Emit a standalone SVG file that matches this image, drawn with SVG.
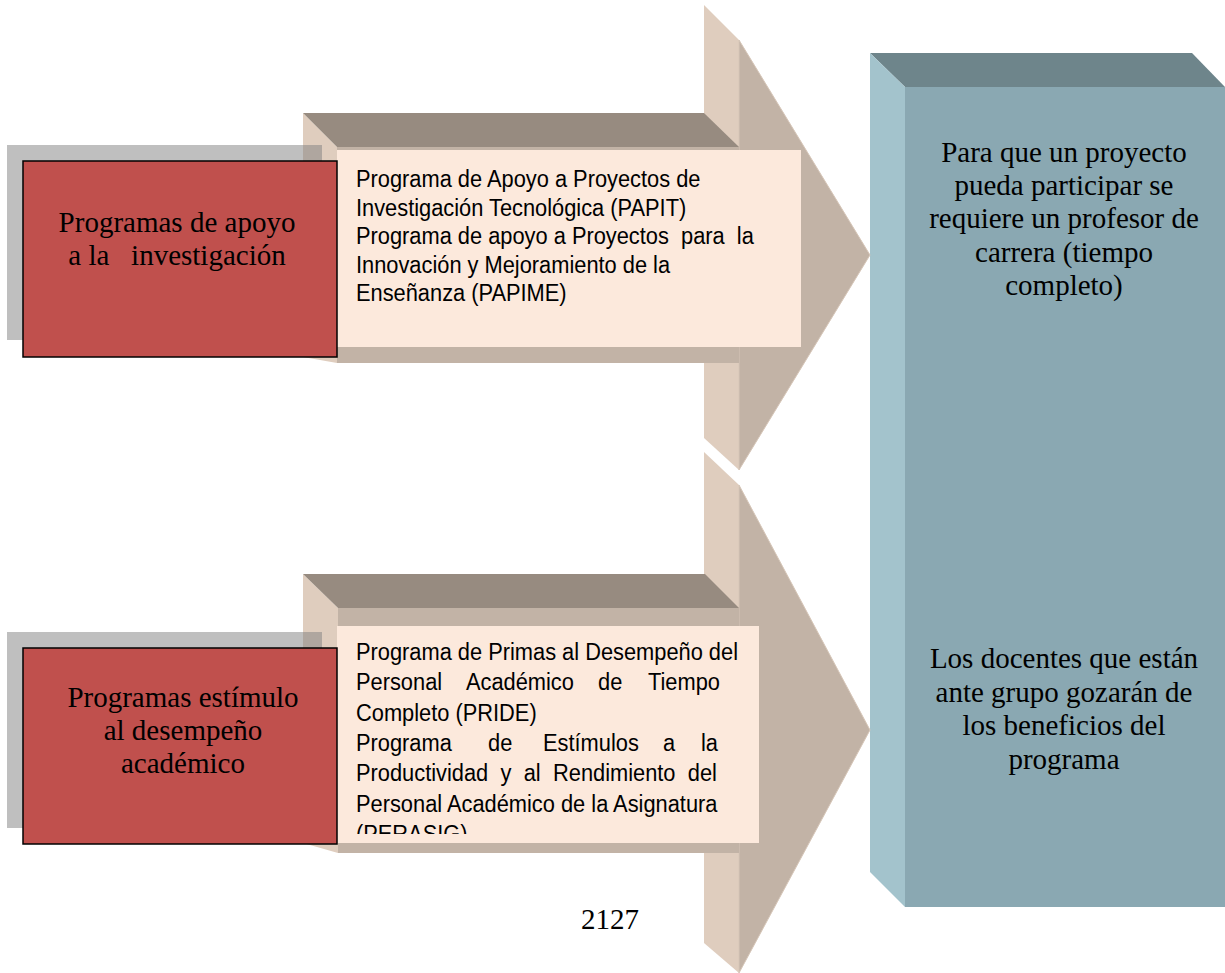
<svg xmlns="http://www.w3.org/2000/svg" width="1225" height="973" viewBox="0 0 1225 973">
<style>
.dark{fill:#978b80}
.lightface{fill:#dfcdbe}
.front{fill:#c2b3a6}
.head{fill:#c2b3a6;stroke:#d6c6b8;stroke-width:1}
.peach{fill:#fce9dc}
.shadow{fill:#808080;fill-opacity:0.5}
.red{fill:#c0504d;stroke:#000;stroke-width:1.5}
.serif{font-family:"Liberation Serif","Times New Roman",serif;font-size:29px;fill:#000}
.sans{font-family:"Liberation Sans",Arial,sans-serif;font-size:23.3px;fill:#000}
.mid{text-anchor:middle}
.btop{fill:#6e858b}
.bleft{fill:#a3c3cc}
.bfront{fill:#8aa8b2}
</style>
<defs>
<clipPath id="clipBottomText"><rect x="337" y="626" width="422" height="208"/></clipPath>
</defs>
<rect width="1225" height="973" fill="#fff"/>

<g id="result-box">
<polygon class="btop" points="870,53 1192,53 1225,87 905,87"/>
<polygon class="bleft" points="870,53 905,87 905,907 870,872"/>
<rect class="bfront" x="905" y="87" width="320" height="820"/>
<text class="serif mid" x="1064" y="162">Para que un proyecto</text>
<text class="serif mid" x="1064" y="195">pueda participar se</text>
<text class="serif mid" x="1064" y="228">requiere un profesor de</text>
<text class="serif mid" x="1064" y="262">carrera (tiempo</text>
<text class="serif mid" x="1064" y="295">completo)</text>
<text class="serif mid" x="1064" y="668">Los docentes que están</text>
<text class="serif mid" x="1064" y="701.5">ante grupo gozarán de</text>
<text class="serif mid" x="1064" y="735">los beneficios del</text>
<text class="serif mid" x="1064" y="768.5">programa</text>
</g>

<g id="connectors">
<g id="arrow-top">
<polygon class="lightface" points="704,5 739,40 739,470 704,438"/>
<polygon class="head" points="739,40 870,255 739,470"/>
<rect class="front" x="337" y="147" width="402" height="216"/>
<polygon class="lightface" points="303,113 337,147 337,363 303,357"/>
<polygon class="dark" points="303,113 704,113 739,147 337,147"/>
</g>
<g id="arrow-bottom">
<polygon class="lightface" points="704,452 739,485 739,973 704,943"/>
<polygon class="head" points="739,485 870,730 739,973"/>
<rect class="front" x="338" y="608" width="401" height="245"/>
<polygon class="lightface" points="303,574 338,608 338,853 303,843"/>
<polygon class="dark" points="303,574 705,574 739,608 338,608"/>
</g>
</g>

<g id="desc-top">
<rect class="peach" x="337" y="150" width="464" height="197"/>
<g transform="translate(356 0) scale(0.937 1)">
<text class="sans" x="0" y="187.4">Programa de Apoyo a Proyectos de</text>
<text class="sans" x="0" y="216">Investigación Tecnológica (PAPIT)</text>
<text class="sans" x="0" y="244.5" xml:space="preserve">Programa de apoyo a Proyectos  para  la</text>
<text class="sans" x="0" y="273">Innovación y Mejoramiento de la</text>
<text class="sans" x="0" y="301.5">Enseñanza (PAPIME)</text>
</g>
</g>

<g id="desc-bottom">
<rect class="peach" x="337" y="626" width="422" height="217"/>
<g clip-path="url(#clipBottomText)">
<g transform="translate(356 0) scale(0.937 1)">
<text class="sans" x="0" y="660">Programa de Primas al Desempeño del</text>
<text class="sans" y="690.3"><tspan x="0">Personal</tspan><tspan x="117.4">Académico</tspan><tspan x="258.3">de</tspan><tspan x="311.6">Tiempo</tspan></text>
<text class="sans" x="0" y="720.6">Completo (PRIDE)</text>
<text class="sans" y="751"><tspan x="0">Programa</tspan><tspan x="140.9">de</tspan><tspan x="199.6">Estímulos</tspan><tspan x="327.6">a</tspan><tspan x="368.2">la</tspan></text>
<text class="sans" x="0" y="781.3" word-spacing="6.67">Productividad y al Rendimiento del</text>
<text class="sans" x="0" y="811.6">Personal Académico de la Asignatura</text>
<text class="sans" x="0" y="842">(PERASIG)</text>
</g>
</g>
</g>

<g id="category-top">
<rect class="shadow" x="7" y="145" width="315" height="195"/>
<rect class="red" x="23" y="161" width="314" height="196"/>
<text class="serif mid" x="177" y="232">Programas de apoyo</text>
<text class="serif mid" x="177" y="265" xml:space="preserve">a la   investigación</text>
</g>

<g id="category-bottom">
<rect class="shadow" x="7" y="632" width="315" height="196"/>
<rect class="red" x="23" y="648" width="314" height="196"/>
<text class="serif mid" x="183" y="707">Programas estímulo</text>
<text class="serif mid" x="183" y="740">al desempeño</text>
<text class="serif mid" x="183" y="773">académico</text>
</g>

<text id="page-number" class="serif" x="581" y="929">2127</text>
</svg>
